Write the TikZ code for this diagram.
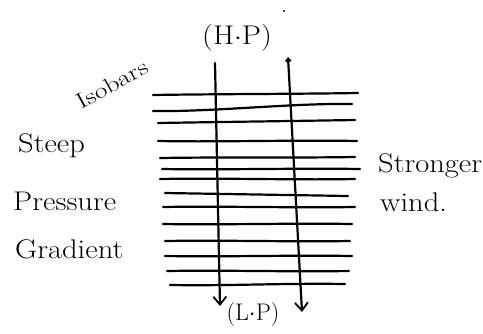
\documentclass[tikz,border=0pt]{standalone}
\usepackage{graphicx}
\usetikzlibrary{arrows.meta}
\begin{document}
\begin{tikzpicture}[x=1pt,y=-1pt,
  isobar/.style={line width=2.2pt,line cap=round},
  wind/.style={line width=2.2pt,line cap=round},
  bigtip/.tip={Straight Barb[length=8pt,width=13pt,line width=1.8pt]},
  smalltip/.tip={Straight Barb[length=3pt,width=5pt,line width=1.8pt]},
  lbl/.style={font=\fontsize{27}{30}\selectfont,inner sep=0pt,anchor=base west}]
\useasboundingbox (0,0) rectangle (483,333);
\fill[white] (0,0) rectangle (483,333);
% isobars
\foreach \ya/\yb/\xa/\xb/\d in {
  95/93/153/358/1,
  111/104/153/352/-1,
  123/120/158/355/1,
  141/141/158/357/-1.2,
  158/157/160/355/1,
  169/169/162/360/-1,
  179/179/160/355/1.2,
  193/196/165/348/-1,
  207/207/163/355/1,
  224/224/163/352/-1,
  241/241/165/350/1,
  256/256/165/352/-1,
  271/271/167/349/1,
  285/284/170/345/-1}
  \draw[isobar] (\xa,\ya) .. controls ({\xa+60},{\ya-\d}) and ({\xb-60},{\yb+\d}) .. (\xb,\yb);
% wind arrows
\coordinate (l1) at (215,63);
\coordinate (l2) at (220,306);
\coordinate (r1) at (288,57);
\coordinate (r2) at (302,312);
\draw[wind,-{bigtip}] (l1) -- (l2);
\draw[wind,{smalltip}-{bigtip}] (r1) -- (r2);
% stray dot
\fill (284,11) circle (1.2pt);
% labels
\node[lbl] (hp) at (202,44) {\scalebox{1.13}[1]{(H{$\cdot$}P)}};
\node[font=\fontsize{24}{26}\selectfont,inner sep=0pt] (lp) at (253,315) {(L{$\cdot$}P)};
\node[font=\fontsize{22}{24}\selectfont,inner sep=0pt,rotate=29] (iso) at (112,84) {\scalebox{1.25}[1]{Isobars}};
\node[lbl] (steep) at (18,152) {\scalebox{1.13}[1]{Steep}};
\node[lbl] (press) at (13,210) {\scalebox{1.13}[1]{Pressure}};
\node[lbl] (grad) at (15,258) {\scalebox{1.13}[1]{Gradient}};
\node[lbl] (strong) at (378,172) {\scalebox{1.13}[1]{Stronger}};
\node[lbl] (wind) at (380,211) {\scalebox{1.13}[1]{wind.}};
\end{tikzpicture}
\end{document}
